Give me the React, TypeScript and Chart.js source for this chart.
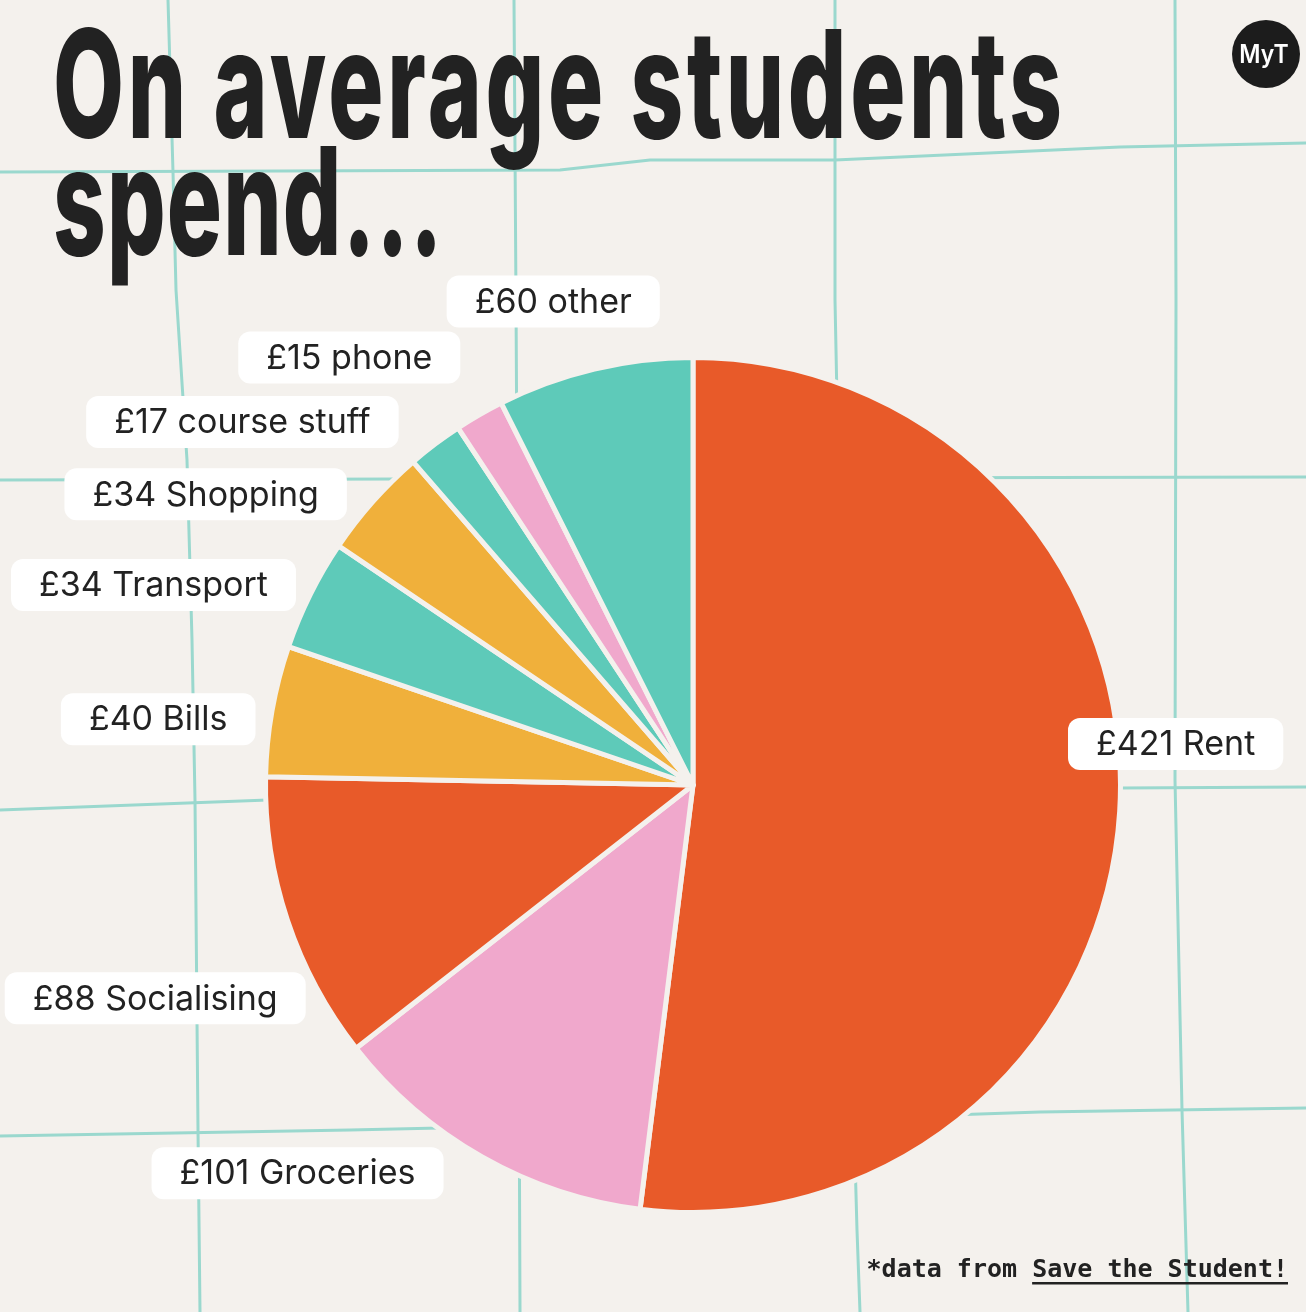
import React, { useEffect, useRef } from "react";
import { Chart, registerables } from "chart.js";

Chart.register(...registerables);

// Monthly spend per category, in pounds
const categories = [
  "Rent",
  "Groceries",
  "Socialising",
  "Bills",
  "Transport",
  "Shopping",
  "course stuff",
  "phone",
  "other",
];
const amounts = [421, 101, 88, 40, 34, 34, 17, 15, 60];
const currencySymbol = "£";

const titleLines = ["On average students", "spend..."];
const footerPrefix = "*data from ";
const footerLink = "Save the Student!";
const brandMark = "MyT";

// Palette
const ORANGE = "#e85a29";
const PINK = "#f0a8cc";
const YELLOW = "#f0b03b";
const TEAL = "#5ecab9";
const sliceColors = [ORANGE, PINK, ORANGE, YELLOW, TEAL, YELLOW, TEAL, PINK, TEAL];
const PAPER = "#f4f1ed";
const INK = "#222222";
const GRID = "#9ad8ce";

// Label box centres, as offsets from the pie centre in units of the pie radius
const labelOffsets: [number, number][] = [
  [1.129, -0.096],
  [-0.925, 0.908],
  [-1.258, 0.499],
  [-1.251, -0.154],
  [-1.262, -0.468],
  [-1.14, -0.68],
  [-1.054, -0.849],
  [-0.804, -1.0],
  [-0.327, -1.131],
];

// Hand-drawn looking background grid
const gridLines: [number, number][][] = [
  [[0, 172], [560, 170], [650, 160], [835, 160], [1120, 147], [1306, 143]],
  [[0, 480], [400, 479], [800, 478], [1306, 477]],
  [[0, 810], [268, 800], [700, 796], [1120, 788], [1306, 787]],
  [[0, 1136], [350, 1130], [800, 1120], [1040, 1112], [1306, 1108]],
  [[168, 0], [173, 172], [176, 290], [187, 460], [192, 640], [195, 800], [198, 1130], [200, 1312]],
  [[514, 0], [516, 300], [517, 480], [518, 800], [520, 1312]],
  [[835, 0], [835, 300], [845, 800], [857, 1230], [860, 1312]],
  [[1175, 0], [1176, 300], [1175, 780], [1182, 1110], [1188, 1312]],
];

const backdropPlugin = {
  id: "backdrop",
  beforeDraw(chart: Chart) {
    const ctx = chart.ctx as any;
    const { width, height } = chart;
    ctx.save();
    ctx.fillStyle = PAPER;
    ctx.fillRect(0, 0, width, height);

    ctx.strokeStyle = GRID;
    ctx.lineWidth = 3;
    ctx.lineJoin = "round";
    ctx.lineCap = "round";
    for (const line of gridLines) {
      ctx.beginPath();
      line.forEach(([x, y], i) => (i === 0 ? ctx.moveTo(x, y) : ctx.lineTo(x, y)));
      ctx.stroke();
    }

    // Condensed heavy headline
    ctx.fillStyle = INK;
    ctx.font = "800 150px Inter, 'Noto Sans', sans-serif";
    ctx.letterSpacing = "6px";
    ctx.textBaseline = "alphabetic";
    ctx.textAlign = "left";
    const w0 = ctx.measureText(titleLines[0]).width - 6;
    const sx = 1009 / w0;
    const baselines = [138, 255];
    titleLines.forEach((line, i) => {
      ctx.save();
      ctx.translate(53, baselines[i]);
      ctx.scale(sx, 1);
      if (i === 1) ctx.letterSpacing = "2px";
      ctx.fillText(line, 0, 0);
      ctx.restore();
    });
    ctx.letterSpacing = "0px";

    // Brand badge
    ctx.beginPath();
    ctx.arc(1266, 54, 34, 0, Math.PI * 2);
    ctx.fillStyle = "#1c1c1c";
    ctx.fill();
    ctx.fillStyle = "#ffffff";
    ctx.font = "600 25px Inter, sans-serif";
    ctx.textAlign = "center";
    ctx.textBaseline = "middle";
    ctx.save();
    ctx.translate(1264, 55);
    ctx.scale(0.92, 1);
    ctx.fillText(brandMark, 0, 0);
    ctx.restore();

    // Source note
    ctx.fillStyle = INK;
    ctx.font = "bold 25px 'DejaVu Sans Mono', 'Liberation Mono', monospace";
    ctx.textAlign = "left";
    ctx.textBaseline = "alphabetic";
    const full = footerPrefix + footerLink;
    const fw = ctx.measureText(full).width;
    const fx = 1288 - fw;
    ctx.fillText(full, fx, 1277);
    const px = ctx.measureText(footerPrefix).width;
    const lw = ctx.measureText(footerLink).width;
    ctx.fillRect(fx + px, 1282, lw, 2.5);
    ctx.restore();
  },
};

const sliceLabelPlugin = {
  id: "sliceLabels",
  afterDatasetsDraw(chart: Chart) {
    const ctx = chart.ctx;
    const meta = chart.getDatasetMeta(0);
    ctx.save();
    ctx.font = "400 34px Inter, 'Noto Sans', sans-serif";
    ctx.textAlign = "center";
    ctx.textBaseline = "middle";
    meta.data.forEach((arc: any, i: number) => {
      const { x, y, outerRadius } = arc.getProps(["x", "y", "outerRadius"], true);
      const [ox, oy] = labelOffsets[i];
      const cx = x + ox * outerRadius;
      const cy = y + oy * outerRadius;
      const text = `${currencySymbol}${amounts[i]} ${categories[i]}`;
      const tw = ctx.measureText(text).width;
      const bw = tw + 56;
      const bh = 52;
      ctx.fillStyle = "#ffffff";
      ctx.beginPath();
      ctx.roundRect(cx - bw / 2, cy - bh / 2, bw, bh, 12);
      ctx.fill();
      ctx.fillStyle = INK;
      ctx.fillText(text, cx, cy + 1);
    });
    ctx.restore();
  },
};

export default function App() {
  const canvasRef = useRef<HTMLCanvasElement | null>(null);

  useEffect(() => {
    document.body.style.margin = "0";
    const canvas = canvasRef.current;
    if (!canvas) return;
    const chart = new Chart(canvas, {
      type: "pie",
      data: {
        labels: categories,
        datasets: [
          {
            data: amounts,
            backgroundColor: sliceColors,
            borderColor: PAPER,
            borderWidth: 5,
            borderJoinStyle: "round",
          },
        ],
      },
      options: {
        responsive: false,
        animation: false,
        rotation: 0,
        layout: { padding: { left: 263, right: 183, top: 355, bottom: 97 } },
        plugins: {
          legend: { display: false },
          tooltip: { enabled: false },
          title: { display: false },
        },
      },
      plugins: [backdropPlugin, sliceLabelPlugin],
    });
    return () => chart.destroy();
  }, []);

  return (
    <div style={{ width: 1306, height: 1312 }}>
      <canvas ref={canvasRef} width={1306} height={1312} style={{ display: "block" }} />
    </div>
  );
}
